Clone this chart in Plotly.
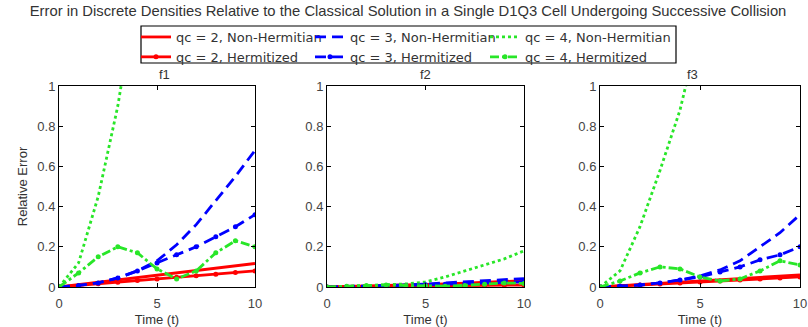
import plotly.graph_objects as go

t = list(range(11))

# Panel f1
f1_qc2_nh = [0, 0.012, 0.024, 0.036, 0.048, 0.06, 0.072, 0.084, 0.096, 0.107, 0.117]
f1_qc2_h = [0, 0.008, 0.016, 0.024, 0.032, 0.040, 0.048, 0.056, 0.064, 0.072, 0.080]
f1_qc3_nh = [0, 0.008, 0.02, 0.045, 0.08, 0.13, 0.21, 0.31, 0.43, 0.55, 0.68]
f1_qc3_h = [0, 0.008, 0.02, 0.045, 0.08, 0.12, 0.16, 0.20, 0.25, 0.30, 0.36]
f1_qc4_nh = [0, 0.12, 0.45, 0.9, 1.5, 2.2, 3.0, 4.0, 5.0, 6.0, 7.0]
f1_qc4_h = [0, 0.07, 0.15, 0.20, 0.17, 0.09, 0.04, 0.08, 0.17, 0.23, 0.20]

# Panel f2
f2_qc2_nh = [0, 0.002, 0.004, 0.006, 0.009, 0.012, 0.015, 0.019, 0.023, 0.027, 0.032]
f2_qc2_h = [0, 0.001, 0.002, 0.003, 0.004, 0.005, 0.006, 0.007, 0.008, 0.009, 0.010]
f2_qc3_nh = [0, 0.002, 0.004, 0.007, 0.011, 0.015, 0.02, 0.025, 0.03, 0.036, 0.042]
f2_qc3_h = [0, 0.001, 0.003, 0.005, 0.008, 0.011, 0.014, 0.017, 0.02, 0.023, 0.026]
f2_qc4_nh = [0, 0.003, 0.006, 0.01, 0.015, 0.025, 0.05, 0.08, 0.11, 0.14, 0.18]
f2_qc4_h = [0, 0.004, 0.008, 0.01, 0.008, 0.005, 0.004, 0.008, 0.014, 0.02, 0.018]

# Panel f3
f3_qc2_nh = [0, 0.006, 0.012, 0.018, 0.024, 0.03, 0.036, 0.042, 0.048, 0.054, 0.06]
f3_qc2_h = [0, 0.005, 0.01, 0.015, 0.02, 0.025, 0.03, 0.035, 0.04, 0.045, 0.05]
f3_qc3_nh = [0, 0.004, 0.01, 0.02, 0.035, 0.055, 0.085, 0.13, 0.2, 0.27, 0.36]
f3_qc3_h = [0, 0.004, 0.01, 0.02, 0.035, 0.05, 0.075, 0.1, 0.135, 0.16, 0.2]
f3_qc4_nh = [0, 0.08, 0.3, 0.58, 0.88, 1.3, 1.9, 2.6, 3.4, 4.3, 5.3]
f3_qc4_h = [0, 0.03, 0.07, 0.10, 0.09, 0.05, 0.03, 0.04, 0.08, 0.13, 0.11]

series_names = ["qc = 2, Non-Hermitian", "qc = 3, Non-Hermitian", "qc = 4, Non-Hermitian",
                "qc = 2, Hermitized", "qc = 3, Hermitized", "qc = 4, Hermitized"]
panel_titles = ["f1", "f2", "f3"]
x_ticks = [0, 5, 10]
y_ticks = [0, 0.2, 0.4, 0.6, 0.8, 1]
y_tick_text = ["0", "0.2", "0.4", "0.6", "0.8", "1"]

panels = [
    [f1_qc2_nh, f1_qc3_nh, f1_qc4_nh, f1_qc2_h, f1_qc3_h, f1_qc4_h],
    [f2_qc2_nh, f2_qc3_nh, f2_qc4_nh, f2_qc2_h, f2_qc3_h, f2_qc4_h],
    [f3_qc2_nh, f3_qc3_nh, f3_qc4_nh, f3_qc2_h, f3_qc3_h, f3_qc4_h],
]

RED = "rgb(255,0,0)"
BLUE = "rgb(0,0,255)"
GREEN = "rgb(40,230,40)"
styles = [
    dict(color=RED, dash="solid", marker=False),
    dict(color=BLUE, dash="11px,6px", marker=False),
    dict(color=GREEN, dash="dot", marker=False),
    dict(color=RED, dash="solid", marker=True),
    dict(color=BLUE, dash="11px,6px", marker=True),
    dict(color=GREEN, dash="dashdot", marker=True),
]
legend_ids = ["legend", "legend2", "legend3"]

FONT = "Liberation Sans, Arial"
LFONT = "DejaVu Sans"
fig = go.Figure()
for p, data in enumerate(panels):
    xa = "x" if p == 0 else f"x{p+1}"
    ya = "y" if p == 0 else f"y{p+1}"
    for i, ys in enumerate(data):
        s = styles[i]
        fig.add_trace(go.Scatter(
            x=t, y=ys, xaxis=xa, yaxis=ya,
            mode="lines+markers" if s["marker"] else "lines",
            name=series_names[i], showlegend=(p == 0), legendgroup=str(i),
            legend=legend_ids[i % 3],
            line=dict(color=s["color"], dash=s["dash"], width=2.8),
            marker=dict(color=s["color"], size=5, symbol="circle"),
            cliponaxis=True,
        ))

W, H = 808, 327
ml, mr, mt, mb = 59, 8, 86, 40
pw = W - ml - mr
ph = H - mt - mb


def px_x(v):
    return (v - ml) / pw


def px_y(v):
    return (H - mb - v) / ph


domains = [(59, 255), (327, 524), (600, 800)]
axis_common = dict(
    showline=True, linecolor="black", linewidth=1, mirror="ticks",
    ticks="inside", ticklen=4, tickcolor="black", showgrid=False, zeroline=False,
    tickfont=dict(family=FONT, size=13, color="#444"), automargin=False,
)
leg_common = dict(orientation="v", xanchor="left", yanchor="top", y=px_y(22),
                  bgcolor="rgba(0,0,0,0)", borderwidth=0,
                  font=dict(family=LFONT, size=13, color="#333"),
                  itemwidth=30, tracegroupgap=0)
layout = dict(
    width=W, height=H, margin=dict(l=ml, r=mr, t=mt, b=mb, autoexpand=False),
    plot_bgcolor="white", paper_bgcolor="white",
    font=dict(family=FONT, size=13, color="#333"),
    title=dict(text="Error in Discrete Densities Relative to the Classical Solution in a Single D1Q3 Cell Undergoing Successive Collision",
               x=0.505, xanchor="center", xref="container", y=(H - 11) / H, yanchor="middle",
               font=dict(size=14.8, color="#333")),
    showlegend=True,
    legend=dict(x=px_x(136), **leg_common),
    legend2=dict(x=px_x(310), **leg_common),
    legend3=dict(x=px_x(485), **leg_common),
    shapes=[dict(type="rect", xref="paper", yref="paper",
                 x0=px_x(141), x1=px_x(676), y0=px_y(63), y1=px_y(26),
                 line=dict(color="black", width=1.2), fillcolor="rgba(0,0,0,0)", layer="below")],
)
annotations = []
for p, (a, b) in enumerate(domains):
    key = "" if p == 0 else str(p + 1)
    ya = "y" if p == 0 else f"y{p+1}"
    layout["xaxis" + key] = dict(
        domain=[px_x(a), px_x(b)], range=[0, 10], anchor=ya,
        tickvals=x_ticks, ticklabelstandoff=4,
        title=dict(text="Time (t)", standoff=10, font=dict(size=13, color="#333")),
        **axis_common)
    layout["yaxis" + key] = dict(
        domain=[0, 1], range=[0, 1], anchor="x" if p == 0 else f"x{p+1}",
        tickvals=y_ticks, ticktext=y_tick_text,
        title=dict(text="Relative Error" if p == 0 else "", standoff=6, font=dict(size=13, color="#333")),
        **axis_common)
    annotations.append(dict(text=panel_titles[p], xref="paper", yref="paper",
                            x=((a + b) / 2 - ml) / pw, y=1.0, yanchor="bottom", yshift=2,
                            showarrow=False, font=dict(size=13, color="#333")))
layout["annotations"] = annotations
fig.update_layout(**layout)
fig.write_html("out.html")
